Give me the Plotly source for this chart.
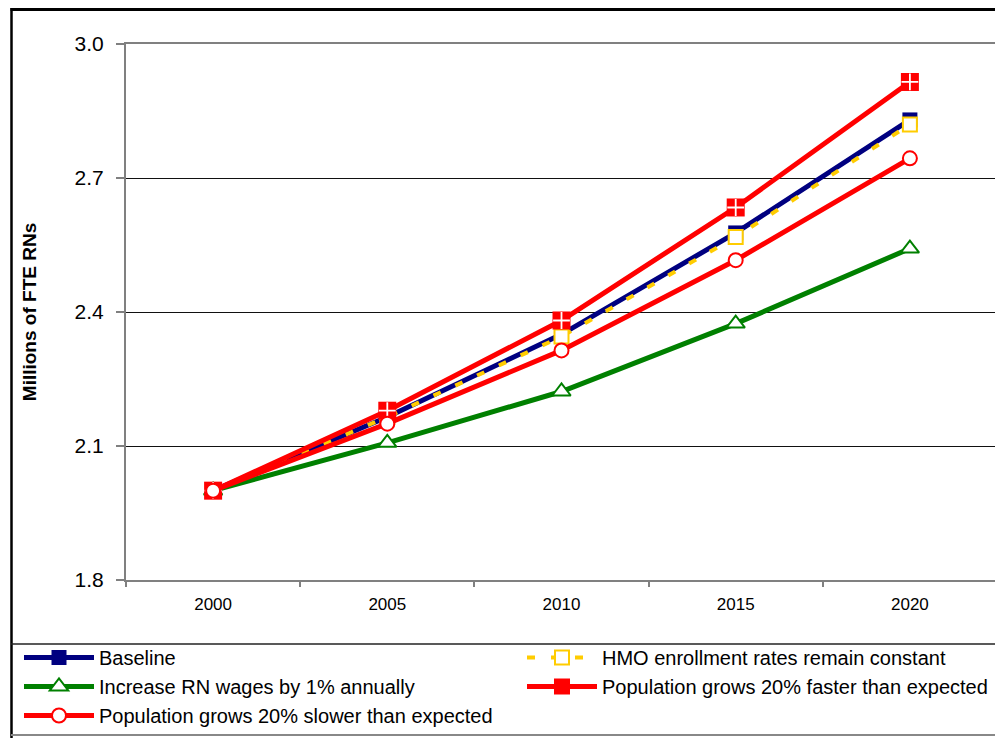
import plotly.graph_objects as go

# ---- data ----
years = ["2000", "2005", "2010", "2015", "2020"]
baseline = [2.00, 2.165, 2.35, 2.577, 2.830]
hmo = [2.00, 2.165, 2.345, 2.568, 2.820]
wages = [2.00, 2.107, 2.222, 2.374, 2.542]
faster = [2.00, 2.179, 2.381, 2.634, 2.915]
slower = [2.00, 2.150, 2.314, 2.516, 2.744]

names = [
    "Baseline",
    "HMO enrollment rates remain constant",
    "Increase RN wages by 1% annually",
    "Population grows 20% faster than expected",
    "Population grows 20% slower than expected",
]
y_title = "Millions of FTE RNs"

FONT = "Liberation Sans, Arial, sans-serif"
W, H = 1003, 738
OFF = 8  # page body margin offset
L, R_PLOT, T, B = 126 - OFF, 997 - OFF, 44 - OFF, 580 - OFF
GS_W = W - L  # right margin 0


def px_x(sx):
    return (sx - OFF - L) / GS_W


def px_y(sy):
    return (B - (sy - OFF)) / (B - T)


fig = go.Figure()

fig.add_trace(go.Scatter(
    x=years, y=baseline, name=names[0], mode="lines+markers",
    line=dict(color="#000080", width=5),
    marker=dict(symbol="square", size=15, color="#000080"),
))
fig.add_trace(go.Scatter(
    x=years, y=hmo, name=names[1], mode="lines+markers",
    line=dict(color="#FFCC00", width=4, dash="8px,16px"),
    marker=dict(symbol="square", size=14, color="white",
                line=dict(color="#FFCC00", width=2)),
))
fig.add_trace(go.Scatter(
    x=years, y=wages, name=names[2], mode="lines+markers",
    line=dict(color="#008000", width=5),
    marker=dict(symbol="triangle-up", size=16, color="white",
                line=dict(color="#008000", width=2)),
))
fig.add_trace(go.Scatter(
    x=years, y=faster, name=names[3], mode="lines+markers",
    line=dict(color="#FF0000", width=5),
    marker=dict(symbol="square", size=18, color="#FF0000"),
))
fig.add_trace(go.Scatter(
    x=years, y=faster, name=names[3], mode="markers", showlegend=False,
    marker=dict(symbol="cross-thin", size=12, color="white",
                line=dict(color="white", width=1.8)),
    hoverinfo="skip",
))
fig.add_trace(go.Scatter(
    x=years, y=slower, name=names[4], mode="lines+markers",
    line=dict(color="#FF0000", width=5),
    marker=dict(symbol="circle", size=14, color="white",
                line=dict(color="#FF0000", width=2)),
))

shapes = [
    # outer frame
    dict(type="line", xref="paper", yref="paper", x0=px_x(10.5), x1=px_x(1020),
         y0=px_y(9.5), y1=px_y(9.5), line=dict(color="black", width=3)),
    dict(type="line", xref="paper", yref="paper", x0=px_x(11.5), x1=px_x(11.5),
         y0=px_y(8), y1=px_y(750), line=dict(color="black", width=2.5)),
    # legend separator
    dict(type="line", xref="paper", yref="paper", x0=px_x(11), x1=px_x(1020),
         y0=px_y(644), y1=px_y(644), line=dict(color="#222222", width=1.5)),
    # bottom gray line
    dict(type="line", xref="paper", yref="paper", x0=px_x(11), x1=px_x(1020),
         y0=px_y(735), y1=px_y(735), line=dict(color="#888888", width=2)),
]

fig.update_layout(
    width=W, height=H,
    margin=dict(l=L, r=0, t=T, b=H - B, autoexpand=False),
    paper_bgcolor="white", plot_bgcolor="white",
    font=dict(family=FONT, color="black"),
    shapes=shapes,
    showlegend=True,
    legend=dict(
        orientation="h",
        x=px_x(19), xanchor="left",
        y=px_y(638), yanchor="top",
        itemwidth=70,
        entrywidth=418, entrywidthmode="pixels",
        font=dict(family=FONT, size=20, color="black"),
        bgcolor="rgba(0,0,0,0)",
        traceorder="normal",
    ),
)

fig.update_xaxes(
    type="category", categoryarray=years, range=[-0.5, 4.5],
    domain=[0, (R_PLOT - L) / GS_W],
    tickson="boundaries", ticks="outside", ticklen=5, tickcolor="#808080", tickwidth=1.5,
    ticklabelstandoff=8,
    showline=True, linecolor="#808080", linewidth=2, mirror=True,
    showgrid=False, zeroline=False,
    tickfont=dict(family=FONT, size=17, color="black"),
)
fig.update_yaxes(
    range=[1.8, 3.0], tick0=1.8, dtick=0.3, tickformat=".1f",
    ticks="outside", ticklen=8, tickcolor="#808080", tickwidth=1.5,
    ticklabelstandoff=8,
    showline=True, linecolor="#808080", linewidth=2, mirror=True,
    showgrid=True, gridcolor="#111111", gridwidth=1, zeroline=False,
    tickfont=dict(family=FONT, size=21, color="black"),
    title=dict(text="<b>" + y_title + "</b>", standoff=33,
               font=dict(family=FONT, size=19, color="black")),
)

fig.write_html("out.html")
